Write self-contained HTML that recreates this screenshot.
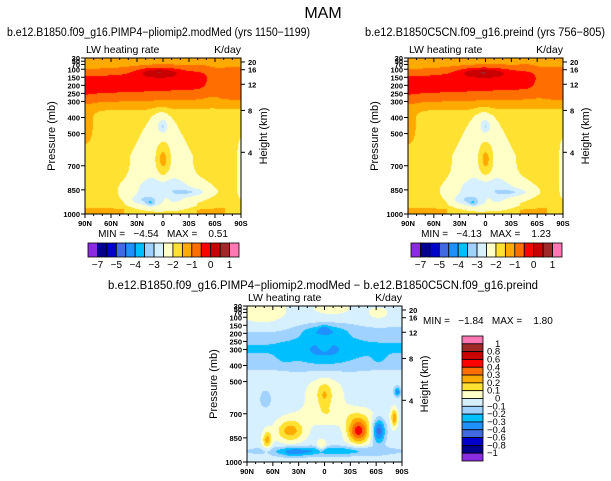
<!DOCTYPE html>
<html><head><meta charset="utf-8">
<style>
html,body{margin:0;padding:0;background:#fff;}
#root{position:relative;width:611px;height:481px;overflow:hidden;background:#fff;font-family:"Liberation Sans",sans-serif;}
canvas{position:absolute;}
svg{position:absolute;left:0;top:0;}
</style></head>
<body>
<div id="root">
<canvas id="c1" style="left:85px;top:58px" width="156" height="156"></canvas>
<canvas id="c2" style="left:408px;top:58px" width="155" height="156"></canvas>
<canvas id="c3" style="left:247px;top:306px" width="155" height="156"></canvas>
<svg id="ov" width="611" height="481"></svg>
</div>
<script>
// ---- data ----
const xTickLabels = ["90N","60N","30N","0","30S","60S","90S"];
const pTicks = [1000,850,700,500,400,300,250,200,150,100,70,50,30];
const zTicks = [20,16,12,8,4];
const palette = ["#8A2BE2","#000090","#0000CD","#4169E1","#1E90FF","#00BFFF","#A0D2FF","#D7F0FF","#FFFFC8","#FFE132","#FFAA00","#FF6E00","#FF0000","#C80000","#A02828","#FF78B4"];
const topBarLabels = ["-7","-5","-4","-3","-2","-1","0","1"];
const topBarLabelIdx = [1,3,5,7,9,11,13,15];
const diffBarLabels = ["1","0.8","0.6","0.4","0.3","0.2","0.1","0","-0.1","-0.2","-0.3","-0.4","-0.6","-0.8","-1"];

const NS='http://www.w3.org/2000/svg';
const ov=document.getElementById('ov');
function el(tag,attrs,parent){const e=document.createElementNS(NS,tag);for(const k in attrs)e.setAttribute(k,attrs[k]);(parent||ov).appendChild(e);return e;}
function txt(str,x,y,size,anchor,name,extra){const t=el('text',Object.assign({x:x,y:y,'font-size':size,'text-anchor':anchor||'start','font-family':'Liberation Sans, sans-serif',fill:'#000'},extra||{}));t.textContent=str;


return t;}

// ---- field functions ----
const E=Math.exp;
function sq(a){return a*a;}
function g(x,y,x0,y0,sx,sy){return E(-sq((x-x0)/sx)-sq((y-y0)/sy));}
function sg(t){return 1/(1+E(-t));}
function topField(x,y,alt){
  let v=9.5;
  v+=1.1*sg((0.31-y)/0.025);
  const rr=alt?0.82:0.78;
  const yc=0.14+0.04*(1-x)-0.02;
  const sd=y<yc?0.07:0.12;
  v+=2.0*E(-sq((y-yc)/sd))*(1-0.55*sg((x-rr)/0.02));
  v+=2.2*g(x,y,alt?0.48:0.47,0.09,alt?0.15:0.13,0.03);
  v+=0.4*E(-sq((y-0.25)/0.06))*sg((x-0.85)/0.03);
  v+=0.8*g(x,y,0,0.45,0.07,0.15);
  const w=(alt?0.055:0.05)+0.15*Math.min(1,Math.max(0,(y-0.33)/0.3));
  v-=1.4*E(-sq((x-0.49)/w))*sg((y-0.34)/0.02)*(1-sg((y-0.97)/0.02));
  v-=1.1*g(x,y,0.55,0.85,0.3,0.08);
  v+=2.2*g(x,y,0.5,0.65,0.05,0.12);
  v-=1.3*g(x,y,0.5,0.44,0.025,0.035);
  v-=1.2*g(x,y,0.37,0.91,0.08,0.03);
  v-=1.1*g(x,y,0.68,0.86,0.1,0.022);
  v-=1.6*g(x,y,0.42,0.93,0.03,0.02);
  v+=0.6*g(x,y,0.52,0.9,0.03,0.05);
  v+=1.0*E(-sq((y-1)/0.05))*((x<0.25||(x>0.72&&x<0.9))?1:0);
  v-=1.2*g(x,y,1,0.7,0.03,0.2);
  return v;
}
function diffField(x,y){
  let v=7.5;
  v+=1.0*g(x,y,0.1,0.05,0.2,0.12)+0.9*g(x,y,0.55,0.02,0.15,0.05)+0.8*g(x,y,0.85,0.05,0.1,0.06);
  v-=1.6*E(-sq((y-0.27)/0.13));
  v-=1.3*g(x,y,0.5,0.3,0.17,0.13);
  v-=1.5*g(x,y,0.5,0.16,0.14,0.035);
  v-=1.0*g(x,y,0.5,0.14,0.03,0.02);
  v+=0.9*g(x,y,0.5,0.25,0.035,0.04);
  v-=0.8*g(x,y,0.25,0.32,0.05,0.05);
  v-=0.8*g(x,y,0.85,0.33,0.04,0.04);
  v+=1.3*g(x,y,0.5,0.56,0.13,0.16);
  v+=1.4*g(x,y,0.5,0.57,0.04,0.07);
  v+=0.9*g(x,y,0.62,0.7,0.3,0.06);
  v+=3.0*g(x,y,0.28,0.8,0.09,0.07);
  v+=5.0*g(x,y,0.72,0.8,0.07,0.08);
  v+=2.8*g(x,y,0.13,0.86,0.03,0.06);
  v+=2.0*g(x,y,0.48,0.9,0.03,0.04);
  v-=2.5*g(x,y,0.5,0.93,0.4,0.03);
  v-=1.5*g(x,y,0.3,0.94,0.08,0.03);
  v-=4.0*g(x,y,0.85,0.8,0.04,0.08);
  v-=3.0*g(x,y,0.97,0.55,0.02,0.03);
  v+=3.0*g(x,y,0.95,0.72,0.02,0.06);
  v-=0.8*g(x,y,0.12,0.6,0.05,0.08);
  return v;
}
function hex(h){return [parseInt(h.substr(1,2),16),parseInt(h.substr(3,2),16),parseInt(h.substr(5,2),16)];}
const rgb=palette.map(hex);
function paint(id,fn){
  const c=document.getElementById(id),ctx=c.getContext('2d'),W=c.width,H=c.height;
  const img=ctx.createImageData(W,H);
  for(let j=0;j<H;j++)for(let i=0;i<W;i++){
    const v=fn((i+0.5)/W,(j+0.5)/H);
    const k=Math.max(0,Math.min(15,Math.floor(v)));
    const o=(j*W+i)*4;img.data[o]=rgb[k][0];img.data[o+1]=rgb[k][1];img.data[o+2]=rgb[k][2];img.data[o+3]=255;
  }
  ctx.putImageData(img,0,0);
}
paint('c1',(x,y)=>topField(x,y,false));
paint('c2',(x,y)=>topField(x,y,true));
paint('c3',diffField);

// ---- axes ----
function pressY(p,top,H){return top+(p-30)/970*H;}
function zToP(z){return z<=11?1013.25*Math.pow(1-0.0065*z*1000/288.15,5.256):226.3*Math.exp(-(z-11)*1000/6341.6);}
function panel(L,T,W,H,name){
  const gr=el('g',{});
  
  
  el('rect',{x:L,y:T,width:W,height:H,fill:'none',stroke:'#000','stroke-width':1},gr);
  for(let d=0;d<=18;d++){
    const x=L+d/18*W, major=d%3===0;
    el('line',{x1:x,y1:T+H,x2:x,y2:T+H+(major?4:2),stroke:'#000','stroke-width':1},gr);
    el('line',{x1:x,y1:T,x2:x,y2:T+(major?4:2),stroke:'#000','stroke-width':1},gr);
  }
  xTickLabels.forEach((lab,i)=>txt(lab,L+i/6*W,T+H+12,7.5,'middle','x-tick-label',{'font-weight':'bold'}));
  pTicks.forEach(p=>{
    const y=pressY(p,T,H);
    el('line',{x1:L-4,y1:y,x2:L,y2:y,stroke:'#000'},gr);
    txt(String(p),L-5,y+3,7.5,'end','y-tick-label',{'font-weight':'bold'});
  });
  zTicks.forEach(z=>{
    const y=pressY(zToP(z),T,H);
    el('line',{x1:L+W,y1:y,x2:L+W+4,y2:y,stroke:'#000'},gr);
    txt(String(z),L+W+7,y+3,7.5,'start','height-tick-label',{'font-weight':'bold'});
  });
  txt('Pressure (mb)',0,0,11,'middle','y-axis-title',{transform:'translate('+(L-30)+','+(T+H/2)+') rotate(-90)'});
  txt('Height (km)',0,0,11,'middle','right-axis-title',{transform:'translate('+(L+W+26)+','+(T+H/2)+') rotate(-90)'});
  txt('LW heating rate',L+1,T-5,10.5,'start','variable-label');
  txt('K/day',L+W,T-5,10.5,'end','units-label');
}
panel(85,58,156,156,'panel-pliomip2');
panel(408,58,155,156,'panel-preind');
panel(247,306,155,156,'panel-difference');

txt('MAM',323,18,16,'middle','figure-title');
txt('b.e12.B1850.f09_g16.PIMP4\u2212pliomip2.modMed (yrs 1150\u22121199)',7,36,11.5,'start','left-panel-title',{textLength:303,lengthAdjust:'spacingAndGlyphs'});
txt('b.e12.B1850C5CN.f09_g16.preind (yrs 756\u2212805)',365,36,11.5,'start','right-panel-title',{textLength:240,lengthAdjust:'spacingAndGlyphs'});
txt('b.e12.B1850.f09_g16.PIMP4\u2212pliomip2.modMed \u2212 b.e12.B1850C5CN.f09_g16.preind',323,289,11.5,'middle','difference-panel-title',{textLength:430,lengthAdjust:'spacingAndGlyphs'});
txt('MIN =   \u22124.54   MAX =    0.51',163,237,10,'middle','left-min-max',{style:'white-space:pre'});
txt('MIN =   \u22124.13   MAX =    1.23',486,237,10,'middle','right-min-max',{style:'white-space:pre'});
txt('MIN =   \u22121.84   MAX =    1.80',423,324,10,'start','diff-min-max',{style:'white-space:pre'});

// ---- colorbars ----
function hbar(L,T,W,H,name){
  const gr=el('g',{});
  
  
  const bw=W/palette.length;
  palette.forEach((c,i)=>{
    const r=el('rect',{x:L+i*bw,y:T,width:bw,height:H,fill:c,stroke:'#000','stroke-width':0.8},gr);
    
    
  });
  topBarLabels.forEach((lab,i)=>txt(lab.replace('-','\u2212'),L+topBarLabelIdx[i]*bw,T+H+11,10,'middle','colorbar-label'));
}
hbar(88,243,151,14,'colorbar-left');
hbar(411,243,151,14,'colorbar-right');
(function(){
  const L=462,T=336,W=21,H=125,bh=H/palette.length;
  const gr=el('g',{});
  
  
  palette.slice().reverse().forEach((c,i)=>{
    const r=el('rect',{x:L,y:T+i*bh,width:W,height:bh,fill:c,stroke:'#000','stroke-width':0.8},gr);
    
    
  });
  diffBarLabels.forEach((lab,i)=>txt(lab.replace('-','\u2212'),(lab==='1'||lab==='0')?495:487,T+(i+1)*bh+3,9.5,'start','colorbar-label'));
})();
</script>
</body></html>
